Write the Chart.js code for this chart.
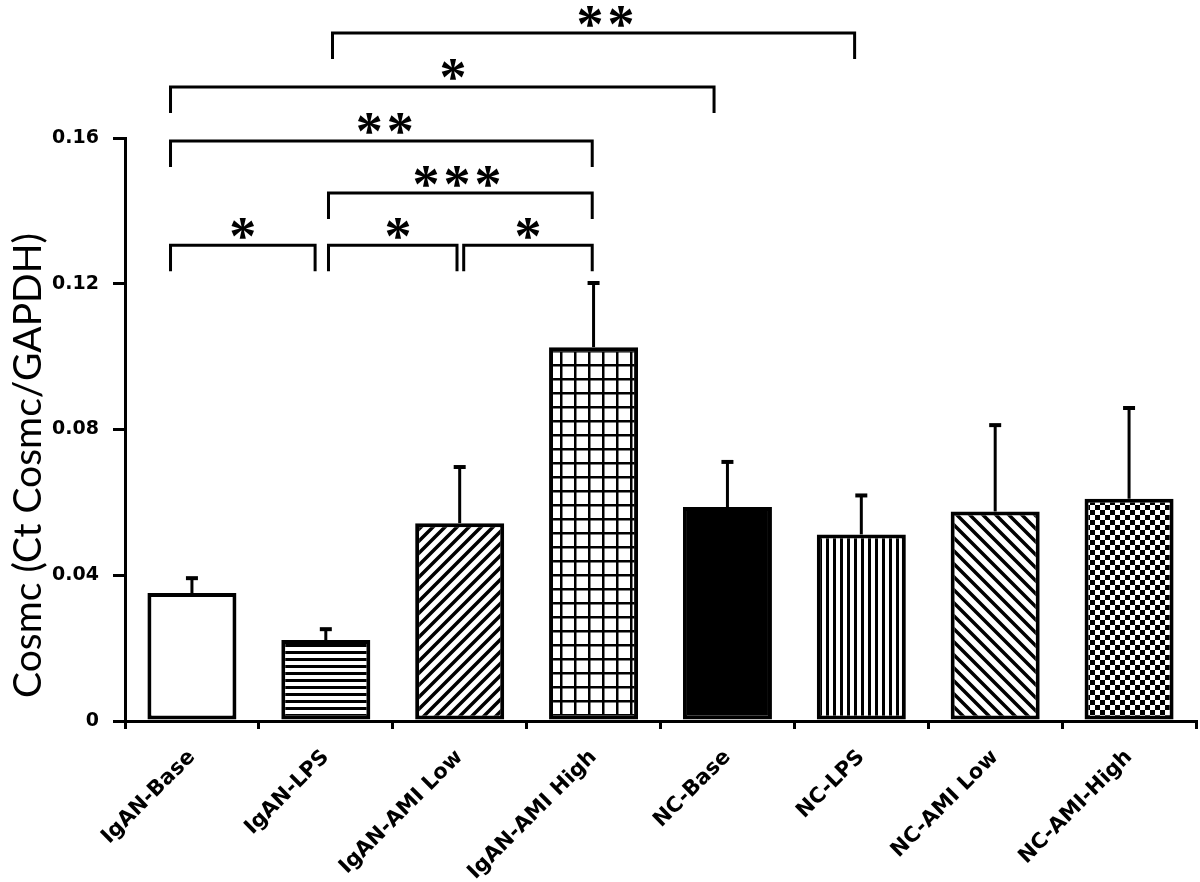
<!DOCTYPE html>
<html lang="en">
<head>
<meta charset="UTF-8" />
<title>Cosmc expression by group</title>
<script src="https://cdn.jsdelivr.net/npm/chart.js"></script>
<style>
  html, body { margin: 0; padding: 0; background: #fff; }
  #wrap { width: 1200px; height: 882px; }
</style>
</head>
<body>
<div id="wrap"><canvas id="cosmcChart" width="1200" height="882"></canvas></div>
<script>
  const groups = ['IgAN-Base', 'IgAN-LPS', 'IgAN-AMI Low', 'IgAN-AMI High', 'NC-Base', 'NC-LPS', 'NC-AMI Low', 'NC-AMI-High'];
  const means = [0.0351, 0.0222, 0.0543, 0.1026, 0.0587, 0.0512, 0.0575, 0.0610];
  const sdUpper = [0.0041, 0.0030, 0.0154, 0.0176, 0.0124, 0.0107, 0.0237, 0.0249];
  const yTicks = [0, 0.04, 0.08, 0.12, 0.16];
  const fills = ['white', 'hlines', 'fwd', 'grid', 'black', 'vlines', 'back', 'checker'];

  // significance brackets (ends in category units, level in y units)
  const sigFrom = [-0.16, 1.02, 2.03, 1.02, -0.16, -0.16, 1.05];
  const sigTo = [0.92, 1.98, 2.99, 2.99, 2.99, 3.90, 4.95];
  const sigLevel = [0.1306, 0.1306, 0.1306, 0.1449, 0.1592, 0.1740, 0.1888];
  const sigStars = ['*', '*', '*', '***', '**', '*', '**'];
  const sigStarAt = [0.38, 1.54, 2.51, 1.98, 1.44, 1.95, 3.09];

  const yTitle = 'Cosmc (Ct Cosmc/GAPDH)';

  function makeFill(kind) {
    if (kind === 'white') return '#ffffff';
    if (kind === 'black') return '#000000';
    const c = document.createElement('canvas');
    const g = c.getContext('2d');
    const n = { hlines: 7, vlines: 7, fwd: 12, back: 13, grid: 14, checker: 10 }[kind];
    c.width = n; c.height = n;
    g.fillStyle = '#fff';
    g.fillRect(0, 0, n, n);
    g.fillStyle = '#000';
    g.strokeStyle = '#000';
    if (kind === 'hlines') g.fillRect(0, 0, n, 3);
    if (kind === 'vlines') g.fillRect(0, 0, 3, n);
    if (kind === 'grid') { g.fillRect(0, 0, n, 2.5); g.fillRect(0, 0, 2.5, n); }
    if (kind === 'checker') { g.fillRect(0, 0, 5, 5); g.fillRect(5, 5, 5, 5); }
    if (kind === 'fwd') {
      g.lineWidth = 3.5;
      g.beginPath();
      g.moveTo(0, n); g.lineTo(n, 0);
      g.moveTo(-n / 2, n / 2); g.lineTo(n / 2, -n / 2);
      g.moveTo(n / 2, n * 1.5); g.lineTo(n * 1.5, n / 2);
      g.stroke();
    }
    if (kind === 'back') {
      g.lineWidth = 3.5;
      g.beginPath();
      g.moveTo(0, 0); g.lineTo(n, n);
      g.moveTo(n / 2, -n / 2); g.lineTo(n * 1.5, n / 2);
      g.moveTo(-n / 2, n / 2); g.lineTo(n / 2, n * 1.5);
      g.stroke();
    }
    return g.createPattern(c, 'repeat');
  }

  const errorBars = {
    id: 'errorBars',
    afterDatasetsDraw(chart) {
      const { ctx, scales: { y } } = chart;
      const meta = chart.getDatasetMeta(0);
      ctx.save();
      ctx.strokeStyle = '#000';
      meta.data.forEach((bar, i) => {
        const top = y.getPixelForValue(means[i] + sdUpper[i]);
        const base = y.getPixelForValue(means[i]);
        ctx.lineWidth = 3;
        ctx.beginPath();
        ctx.moveTo(bar.x, base);
        ctx.lineTo(bar.x, top);
        ctx.stroke();
        ctx.lineWidth = 4;
        ctx.beginPath();
        ctx.moveTo(bar.x - 6, top);
        ctx.lineTo(bar.x + 6, top);
        ctx.stroke();
      });
      ctx.restore();
    }
  };

  const brackets = {
    id: 'brackets',
    afterDraw(chart) {
      const { ctx, scales: { x, y } } = chart;
      ctx.save();
      ctx.strokeStyle = '#000';
      ctx.fillStyle = '#000';
      ctx.lineWidth = 3;
      ctx.font = 'bold 54px "Liberation Serif"';
      ctx.textAlign = 'center';
      const m = ctx.measureText('*');
      const half = (m.actualBoundingBoxAscent - m.actualBoundingBoxDescent) / 2;
      sigFrom.forEach((from, i) => {
        const x0 = x.getPixelForValue(from);
        const x1 = x.getPixelForValue(sigTo[i]);
        const yl = y.getPixelForValue(sigLevel[i]);
        ctx.beginPath();
        ctx.moveTo(x0, yl + 26);
        ctx.lineTo(x0, yl);
        ctx.lineTo(x1, yl);
        ctx.lineTo(x1, yl + 26);
        ctx.stroke();
        const n = sigStars[i].length;
        const cx = x.getPixelForValue(sigStarAt[i]);
        for (let k = 0; k < n; k++) {
          const sx = cx + (k - (n - 1) / 2) * 31;
          ctx.fillText('*', sx, yl - 17 + half);
        }
      });
      // y axis title
      const area = chart.chartArea;
      ctx.font = '39px Lato';
      ctx.textBaseline = 'middle';
      ctx.translate(28, (area.top + area.bottom) / 2 + 36);
      ctx.rotate(-Math.PI / 2);
      ctx.fillText(yTitle, 0, 0);
      ctx.restore();
    }
  };

  new Chart(document.getElementById('cosmcChart'), {
    type: 'bar',
    data: {
      labels: groups,
      datasets: [{
        data: means,
        backgroundColor: fills.map(makeFill),
        borderColor: '#000',
        borderWidth: 4,
        borderSkipped: false,
        barPercentage: 0.665,
        categoryPercentage: 1.0
      }]
    },
    options: {
      responsive: false,
      animation: false,
      layout: { padding: { top: 138, right: 4, left: 0, bottom: 0 } },
      plugins: { legend: { display: false }, tooltip: { enabled: false } },
      scales: {
        x: {
          offset: true,
          grid: { offset: true, drawOnChartArea: false, color: '#000', lineWidth: 3, tickLength: 8 },
          border: { color: '#000', width: 3 },
          ticks: {
            color: '#000',
            maxRotation: 45,
            minRotation: 45,
            padding: 16,
            font: { family: 'DejaVu Sans', weight: 'bold', size: 21 }
          },
          afterFit: s => { s.height = 161; }
        },
        y: {
          min: 0,
          max: 0.16,
          afterBuildTicks: s => { s.ticks = yTicks.map(v => ({ value: v })); },
          grid: { drawOnChartArea: false, color: '#000', lineWidth: 3, tickLength: 12 },
          border: { color: '#000', width: 3 },
          ticks: {
            color: '#000',
            padding: 14,
            callback: v => String(v),
            font: { family: 'DejaVu Sans', weight: 'bold', size: 19 }
          },
          afterFit: s => { s.width = 125; }
        }
      }
    },
    plugins: [errorBars, brackets]
  });
</script>
</body>
</html>
